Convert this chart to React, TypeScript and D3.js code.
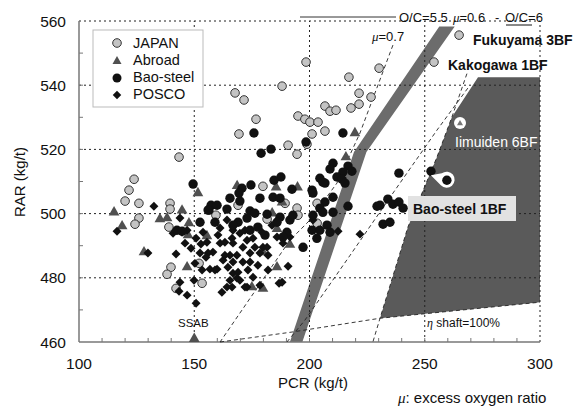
import { line, range, scaleLinear, select, symbol, symbolSquare, symbolTriangle } from "d3";
import { useEffect, useRef } from "react";

// [PCR (kg/t), RAR (kg/t)]
const japan = [
  [167.7, 537.6], [171.6, 535.4], [176.8, 529.4], [169.4, 524.8], [188.1, 539.7],
  [195.0, 530.4], [190.7, 521.3], [194.6, 518.5], [143.4, 517.6], [123.9, 510.7],
  [121.7, 507.3], [120.0, 503.9], [126.0, 503.2], [139.5, 503.2], [139.5, 501.4],
  [126.0, 498.6], [124.3, 496.7], [139.0, 495.8], [179.8, 508.5], [139.9, 483.3],
  [138.2, 481.1], [142.1, 476.7], [152.1, 484.5], [153.4, 478.3], [159.4, 499.5],
  [169.0, 502.6], [194.6, 501.7], [195.0, 499.5], [198.0, 529.4], [200.2, 528.5],
  [203.7, 528.5], [201.1, 524.8], [198.9, 521.6], [203.3, 503.2], [203.3, 497.0],
  [198.5, 547.2], [217.1, 542.5], [230.2, 545.3], [221.5, 537.5], [226.7, 536.3],
  [206.7, 533.5], [208.9, 531.9], [211.5, 532.2], [221.5, 534.1], [218.0, 532.9],
  [206.7, 525.7], [181.6, 498.3], [189.4, 503.2],
];
const fukuyama3BF = [[264.9, 555.6]];
const kakogawa1BF = [[254.0, 547.2]];

const abroad = [
  [151.6, 506.4], [168.6, 508.6], [185.5, 508.2], [194.8, 508.2], [115.2, 500.4],
  [118.7, 496.1], [135.1, 498.3], [138.2, 498.6], [144.7, 501.0], [147.7, 497.0],
  [147.3, 493.3], [128.2, 488.0], [146.9, 483.3], [150.0, 461.0], [155.5, 493.0],
  [175.0, 477.1], [179.8, 476.6], [185.9, 483.3], [188.1, 503.5], [183.8, 500.1],
  [185.9, 495.2], [191.5, 490.3], [219.7, 525.1], [215.8, 517.6], [179.8, 488.0],
];

const baoSteel = [
  [149.5, 509.2], [175.9, 525.1], [179.0, 518.8], [183.3, 520.1], [192.4, 507.6],
  [187.6, 511.4], [184.6, 510.4], [174.6, 508.9], [170.7, 507.9], [169.4, 506.4],
  [165.5, 504.8], [198.5, 522.3], [184.2, 505.1], [187.2, 504.8], [178.5, 504.8],
  [157.3, 502.6], [159.9, 502.6], [169.8, 503.9], [156.4, 501.1], [164.2, 501.4],
  [174.2, 500.8], [176.3, 500.1], [181.6, 499.8], [187.2, 498.9], [191.5, 498.0],
  [185.9, 497.3], [172.9, 498.6], [169.0, 497.3], [166.8, 496.4], [159.0, 497.3],
  [152.5, 497.3], [201.5, 499.5], [201.1, 494.8], [174.2, 494.8], [177.6, 495.8],
  [180.7, 493.3], [190.2, 494.2], [188.5, 492.7], [197.2, 489.5], [214.5, 525.1],
  [210.2, 515.7], [208.9, 513.9], [216.7, 514.8], [218.4, 513.2], [214.5, 512.9],
  [211.9, 511.4], [204.5, 511.0], [206.7, 509.5], [214.1, 510.7], [215.4, 509.5],
  [201.1, 507.3], [206.7, 503.6], [210.2, 505.1], [204.5, 501.7], [205.8, 500.4],
  [210.2, 500.4], [207.6, 496.4], [204.5, 494.8], [208.9, 494.2], [203.2, 492.3],
  [216.7, 502.3], [238.8, 512.6], [229.3, 502.3], [230.6, 502.6], [234.0, 504.5],
  [236.2, 502.9], [238.8, 503.6], [240.6, 501.7], [231.9, 496.7], [234.9, 497.3],
  [252.7, 513.2], [205.8, 509.8], [201.5, 506.4], [192.8, 499.5], [156.0, 501.1],
  [142.5, 494.8], [144.7, 494.5],
];
const baoSteel1BF = [259.6, 510.4];
const iimuiden6BF = [265.3, 528.2];

const posco = [
  [116.5, 494.5], [129.9, 487.7], [132.5, 502.3], [143.8, 498.6], [146.9, 494.8],
  [144.7, 494.2], [140.8, 493.9], [146.0, 490.8], [148.6, 489.2], [142.1, 487.4],
  [153.8, 494.2], [155.5, 491.1], [158.1, 488.0], [161.2, 490.8], [153.4, 482.4],
  [156.8, 482.7], [159.9, 482.7], [162.5, 485.5], [165.5, 487.0], [166.8, 484.9],
  [164.6, 483.3], [166.8, 481.4], [165.5, 479.2], [168.5, 479.9], [164.2, 477.1],
  [162.0, 475.5], [172.9, 477.1], [143.8, 478.6], [146.9, 474.6], [150.8, 472.1],
  [149.9, 479.2], [152.5, 487.7], [156.0, 487.7], [150.3, 484.5], [155.1, 486.4],
  [164.2, 498.0], [166.8, 494.8], [161.2, 495.5], [169.8, 493.9], [163.3, 491.1],
  [166.4, 492.3], [172.9, 491.7], [175.5, 492.3], [171.1, 489.5], [176.3, 489.5],
  [179.8, 489.5], [185.9, 492.7], [188.5, 490.8], [183.7, 496.4], [166.8, 490.8],
  [174.2, 487.7], [178.5, 487.7], [182.0, 487.0], [163.3, 487.0], [168.5, 487.0],
  [159.0, 482.4], [169.0, 481.7], [173.3, 482.4], [182.0, 482.4], [190.7, 483.6],
  [169.8, 479.2], [166.4, 477.1], [172.0, 477.1], [186.8, 478.3], [175.5, 480.2],
  [221.9, 493.6], [212.4, 494.5], [201.5, 498.0], [188.1, 478.6], [181.6, 489.5],
  [191.5, 492.7], [174.2, 484.9], [171.1, 484.9], [177.6, 483.9], [160.3, 493.3],
  [150.8, 492.3], [152.9, 490.5], [178.5, 477.7], [172.0, 494.8], [179.4, 494.2],
  [143.4, 475.8],
];

// operating limit lines
const mu07Line = [[236.2, 552.5], [221.9, 525.1], [211.9, 509.5], [200.2, 498.0], [191.5, 491.7], [161.2, 460]];
const midLine = [[268.7, 539.1], [255.3, 526.0], [237.1, 507.3], [217.6, 487.0], [198.0, 466.8], [190.2, 460]];
const edgeLine = [[268.3, 543.6], [261.8, 530.1], [255.3, 517.6], [242.7, 495.8], [230.6, 467.4], [227.5, 460]];
const etaShaftLine = [[161.2, 460], [192.4, 463.1], [230.6, 467.4], [300, 472.4]];
const bandLeft = [[191.5, 460], [219.3, 519.2], [256.3, 558.3]];
const bandRight = [[196.9, 460], [224.7, 519.2], [263.0, 558.3]];
const darkRegion = [[273.1, 542.5], [300, 542.5], [300, 472.4], [230.6, 467.4], [242.7, 495.8], [255.3, 517.6], [261.8, 530.1]];

const xTicks = [100, 150, 200, 250, 300];
const yTicks = [460, 480, 500, 520, 540, 560];
const legendItems = ["JAPAN", "Abroad", "Bao-steel", "POSCO"];

const FONT = "'Liberation Sans', Arial, sans-serif";

function PcrRarChart() {
  const svgRef = useRef(null);

  useEffect(() => {
    const svg = select(svgRef.current);
    const xScale = scaleLinear().domain([100, 300]).range([79, 540]);
    const yScale = scaleLinear().domain([460, 560]).range([342, 21]);
    const path = line()
      .x((d) => xScale(d[0]))
      .y((d) => yScale(d[1]));

    const areas = svg.select(".areas");
    areas
      .selectAll(".dark")
      .data([darkRegion])
      .join("path")
      .attr("class", "dark")
      .attr("d", (d) => path(d) + "Z")
      .attr("fill", "#5a5a5a");
    areas
      .selectAll(".band")
      .data([[...bandLeft, ...bandRight.slice().reverse()]])
      .join("path")
      .attr("class", "band")
      .attr("d", (d) => path(d) + "Z")
      .attr("fill", "#6c6c6c");

    const grid = svg.select(".grid");
    grid
      .selectAll(".vgrid")
      .data(xTicks.slice(1))
      .join("line")
      .attr("class", "vgrid")
      .attr("x1", xScale)
      .attr("x2", xScale)
      .attr("y1", yScale(460))
      .attr("y2", yScale(560))
      .attr("stroke", "#222")
      .attr("stroke-width", 1)
      .attr("stroke-dasharray", "2,3");
    grid
      .selectAll(".hgrid")
      .data(yTicks.slice(1))
      .join("line")
      .attr("class", "hgrid")
      .attr("x1", xScale(100))
      .attr("x2", xScale(300))
      .attr("y1", yScale)
      .attr("y2", yScale)
      .attr("stroke", "#222")
      .attr("stroke-width", 1)
      .attr("stroke-dasharray", "2,3");

    const axes = svg.select(".axes");
    axes
      .selectAll(".axis-line")
      .data([
        [[100, 460], [100, 560]],
        [[100, 460], [300, 460]],
      ])
      .join("path")
      .attr("class", "axis-line")
      .attr("d", path)
      .attr("stroke", "#777")
      .attr("stroke-width", 1.5)
      .attr("fill", "none");
    axes
      .selectAll(".xminor")
      .data(range(110, 300, 10))
      .join("line")
      .attr("class", "xminor")
      .attr("x1", xScale)
      .attr("x2", xScale)
      .attr("y1", yScale(460))
      .attr("y2", yScale(460) - 4)
      .attr("stroke", "#777");
    axes
      .selectAll(".yminor")
      .data(range(470, 560, 10))
      .join("line")
      .attr("class", "yminor")
      .attr("x1", xScale(100))
      .attr("x2", xScale(100) + 4)
      .attr("y1", yScale)
      .attr("y2", yScale)
      .attr("stroke", "#777");
    axes
      .selectAll(".xlabel")
      .data(xTicks)
      .join("text")
      .attr("class", "xlabel")
      .attr("x", xScale)
      .attr("y", 369)
      .attr("text-anchor", "middle")
      .attr("font-size", 15.5)
      .attr("font-family", FONT)
      .attr("fill", "#111")
      .text((d) => d);
    axes
      .selectAll(".ylabel")
      .data(yTicks)
      .join("text")
      .attr("class", "ylabel")
      .attr("x", 66)
      .attr("y", (d) => yScale(d) + 5.5)
      .attr("text-anchor", "end")
      .attr("font-size", 15.5)
      .attr("font-family", FONT)
      .attr("fill", "#111")
      .text((d) => d);

    svg
      .select(".curves")
      .selectAll("path")
      .data([mu07Line, midLine, edgeLine, etaShaftLine])
      .join("path")
      .attr("d", path)
      .attr("fill", "none")
      .attr("stroke", "#222")
      .attr("stroke-width", 0.9)
      .attr("stroke-dasharray", "4,3");

    const points = svg.select(".points");
    points
      .selectAll(".japan")
      .data([...japan, ...fukuyama3BF, ...kakogawa1BF])
      .join("circle")
      .attr("class", "japan")
      .attr("cx", (d) => xScale(d[0]))
      .attr("cy", (d) => yScale(d[1]))
      .attr("r", 4.3)
      .attr("fill", "#c4c4c4")
      .attr("stroke", "#333")
      .attr("stroke-width", 1);
    const tri = symbol().type(symbolTriangle).size(50);
    points
      .selectAll(".abroad")
      .data(abroad)
      .join("path")
      .attr("class", "abroad")
      .attr("d", tri)
      .attr("transform", (d) => `translate(${xScale(d[0])},${yScale(d[1])})`)
      .attr("fill", "#505050");
    const dia = symbol().type(symbolSquare).size(40);
    points
      .selectAll(".posco")
      .data(posco)
      .join("path")
      .attr("class", "posco")
      .attr("d", dia)
      .attr("transform", (d) => `translate(${xScale(d[0])},${yScale(d[1])}) rotate(45)`)
      .attr("fill", "#111");
    points
      .selectAll(".bao")
      .data(baoSteel)
      .join("circle")
      .attr("class", "bao")
      .attr("cx", (d) => xScale(d[0]))
      .attr("cy", (d) => yScale(d[1]))
      .attr("r", 4.7)
      .attr("fill", "#111");

    // highlighted plants
    const hi = svg.select(".highlights");
    const bx = xScale(baoSteel1BF[0]);
    const by = yScale(baoSteel1BF[1]);
    hi.selectAll(".bao1bf-ring")
      .data([baoSteel1BF])
      .join("path")
      .attr("class", "bao1bf-ring")
      .attr("d", `M${bx - 16},${by - 5} L${bx - 5},${by - 7} A8 8 0 1 1 ${bx - 6},${by + 5} Z`)
      .attr("fill", "#fff");
    hi.selectAll(".bao1bf-dot")
      .data([baoSteel1BF])
      .join("circle")
      .attr("class", "bao1bf-dot")
      .attr("cx", bx)
      .attr("cy", by)
      .attr("r", 4.7)
      .attr("fill", "#111");
    const ix = xScale(iimuiden6BF[0]);
    const iy = yScale(iimuiden6BF[1]);
    hi.selectAll(".iim-ring")
      .data([iimuiden6BF])
      .join("circle")
      .attr("class", "iim-ring")
      .attr("cx", ix)
      .attr("cy", iy)
      .attr("r", 6)
      .attr("fill", "#fff");
    hi.selectAll(".iim-tri")
      .data([iimuiden6BF])
      .join("path")
      .attr("class", "iim-tri")
      .attr("d", symbol().type(symbolTriangle).size(16))
      .attr("transform", `translate(${ix},${iy + 0.5})`)
      .attr("fill", "#777");

    // legend
    const legend = svg.select(".legend");
    legend
      .selectAll(".legend-row")
      .data(legendItems)
      .join("text")
      .attr("class", "legend-row")
      .attr("x", 133)
      .attr("y", (_, i) => 48 + i * 17)
      .attr("font-size", 14.5)
      .attr("font-family", FONT)
      .attr("fill", "#111")
      .text((d) => d);
  }, []);

  const muStyle = { fontStyle: "italic", fontFamily: "'Liberation Serif', serif" };

  return (
    <svg
      ref={svgRef}
      width={573}
      height={406}
      style={{ position: "absolute", left: 0, top: 0, background: "#fff" }}
    >
      <g className="areas" />
      <g className="grid" />
      <g className="axes" />
      <g className="curves" />
      <g className="points" />
      <g className="highlights" />

      <g className="legend">
        <rect x={93} y={30} width={110} height={77} fill="#fff" stroke="#bbb" />
        <circle cx={117} cy={43} r={4.3} fill="#c4c4c4" stroke="#333" />
        <path d="M117,56 L121.5,64 L112.5,64 Z" fill="#505050" />
        <circle cx={117} cy={78} r={4.5} fill="#111" />
        <rect x={114} y={92} width={6} height={6} fill="#111" transform="rotate(45 117 95)" />
      </g>

      <g fontFamily={FONT} fill="#111">
        <line x1={300} y1={17} x2={396} y2={17} stroke="#333" strokeWidth={1} />
        <text x={399} y={22} fontSize={13}>O/C=5.5</text>
        <text x={453} y={22} fontSize={13}>
          <tspan style={muStyle}>μ</tspan>=0.6
        </text>
        <text x={495} y={22} fontSize={13}>-</text>
        <text x={505} y={22} fontSize={13}>O/C=6</text>
        <line x1={506} y1={25} x2={532} y2={25} stroke="#111" strokeWidth={1} />
        <text x={372} y={41} fontSize={13}>
          <tspan style={muStyle}>μ</tspan>=0.7
        </text>
        <text x={473} y={45} fontSize={14} fontWeight="bold">
          Fukuyama 3BF
        </text>
        <text x={448} y={70} fontSize={14} fontWeight="bold">
          Kakogawa 1BF
        </text>
        <text x={455} y={147} fontSize={14} fill="#fff">
          Iimuiden 6BF
        </text>
        <rect x={408} y={196} width={108} height={25} fill="#e2e2e2" />
        <text x={413} y={214} fontSize={14} fontWeight="bold">
          Bao-steel 1BF
        </text>
        <text x={178} y={327} fontSize={11.5}>
          SSAB
        </text>
        <text x={427} y={327} fontSize={12}>
          <tspan style={muStyle}>η</tspan> shaft=100%
        </text>
        <text x={313} y={388} fontSize={15} textAnchor="middle">
          PCR (kg/t)
        </text>
        <text transform="translate(25,182) rotate(-90)" fontSize={15} textAnchor="middle">
          RAR (kg/t)
        </text>
        <text x={398} y={403} fontSize={15}>
          <tspan style={muStyle}>μ</tspan>: excess oxygen ratio
        </text>
      </g>
    </svg>
  );
}

export default function App() {
  return <PcrRarChart />;
}
